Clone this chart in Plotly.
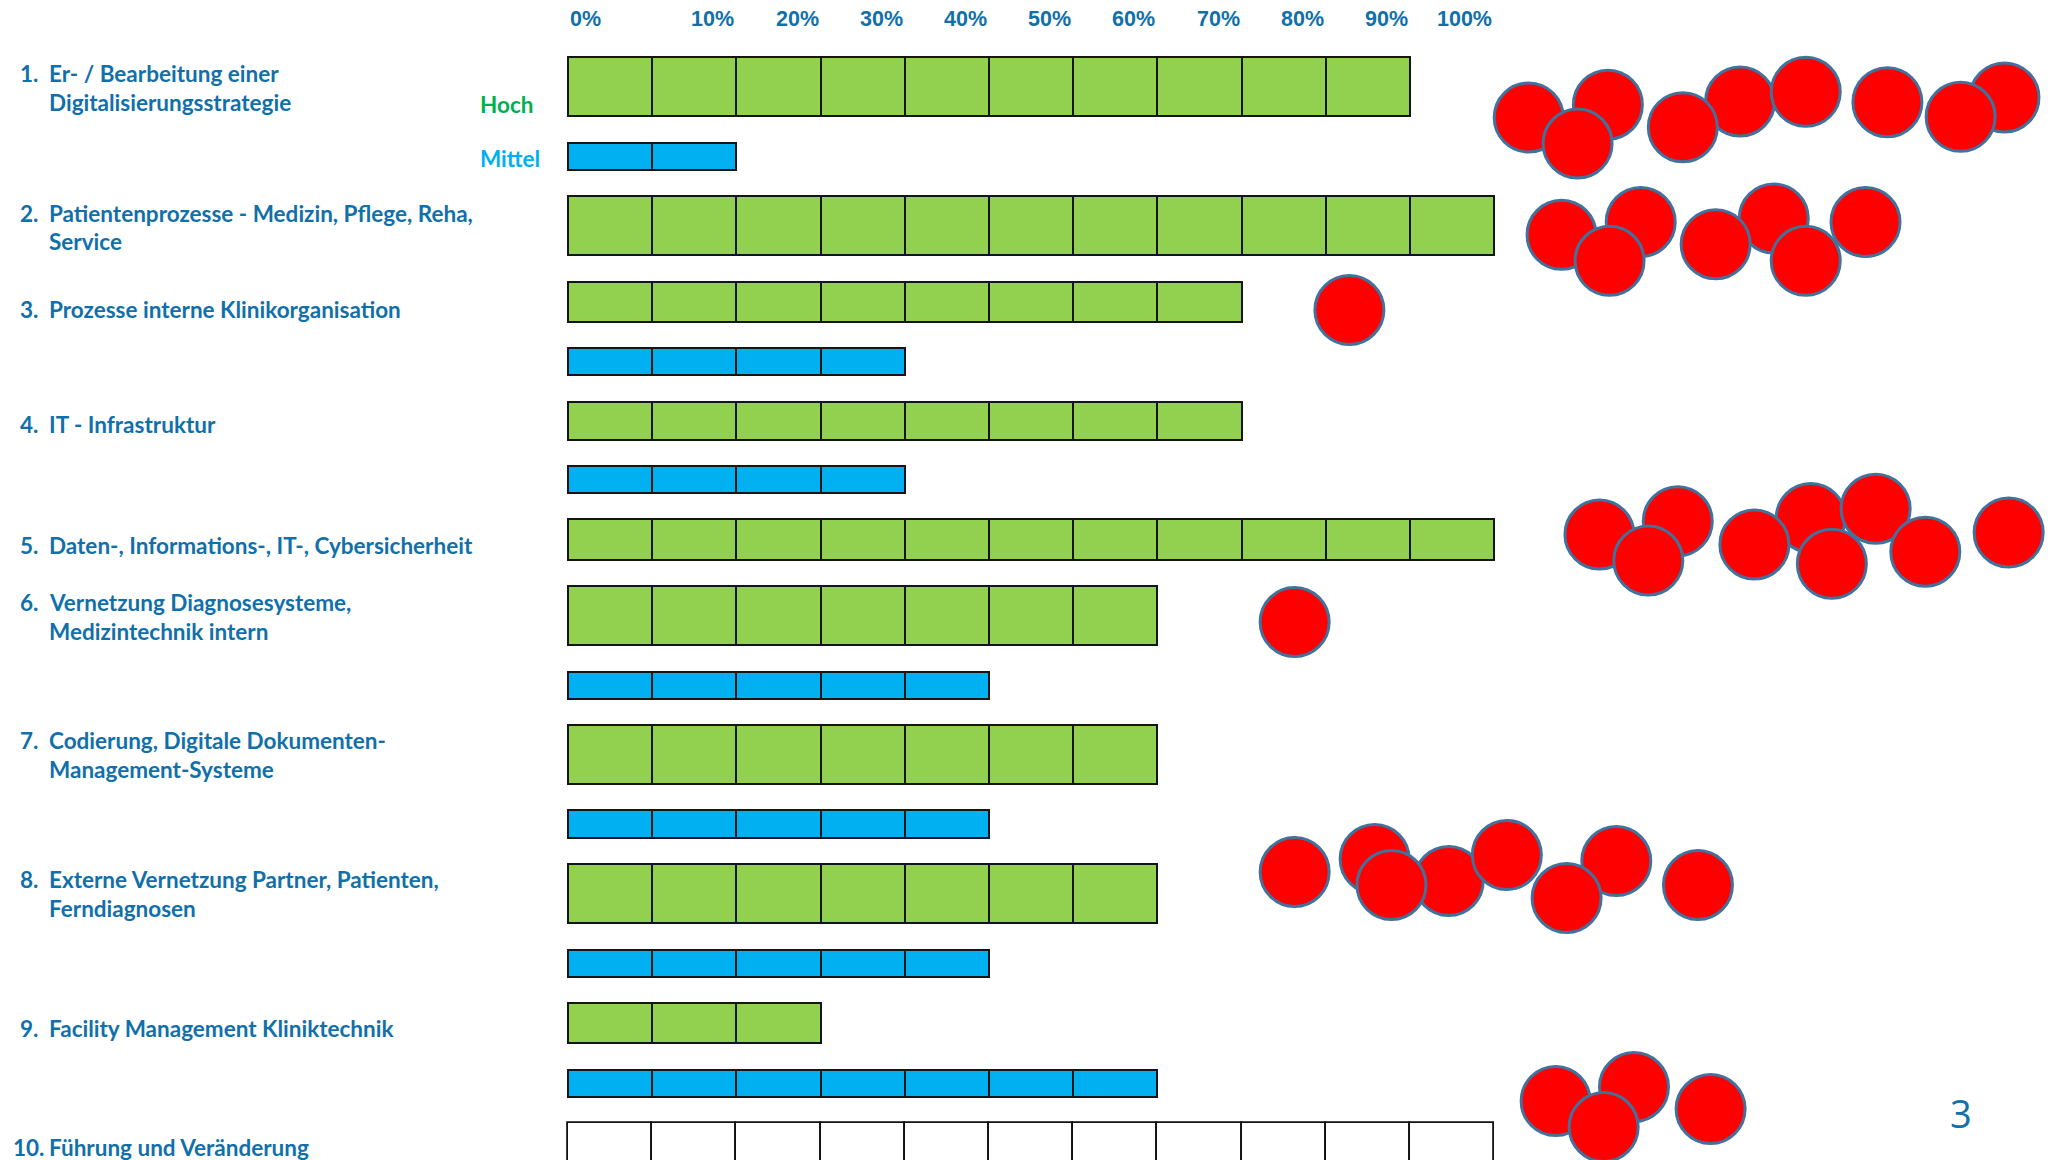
import plotly.graph_objects as go

# ---------------- data ----------------
numbers = ["1.", "2.", "3.", "4.", "5.", "6.", "7.", "8.", "9.", "10."]
topic_lines = [
    ["Er- / Bearbeitung einer", "Digitalisierungsstrategie"],
    ["Patientenprozesse - Medizin, Pflege, Reha,", "Service"],
    ["Prozesse interne Klinikorganisation"],
    ["IT - Infrastruktur"],
    ["Daten-, Informations-, IT-, Cybersicherheit"],
    ["Vernetzung Diagnosesysteme,", "Medizintechnik intern"],
    ["Codierung, Digitale Dokumenten-", "Management-Systeme"],
    ["Externe Vernetzung Partner, Patienten,", "Ferndiagnosen"],
    ["Facility Management Kliniktechnik"],
    ["Führung und Veränderung"],
]
hoch_pct = [90, 100, 70, 70, 100, 60, 60, 60, 20, None]
mittel_pct = [10, None, 30, 30, None, 40, 40, 40, 60, None]
frame_pct = [None, None, None, None, None, None, None, None, None, 100]
tick_pct = [0, 10, 20, 30, 40, 50, 60, 70, 80, 90, 100]
tick_labels = ["0%", "10%", "20%", "30%", "40%", "50%", "60%", "70%", "80%", "90%", "100%"]

# red markers (position in bar-cell units / row units), per row cluster
circle_x = [
    [11.41, 12.35, 11.99, 13.92, 13.24, 14.70, 15.67, 17.06, 16.54],
    [11.80, 12.74, 12.37, 14.32, 13.63, 14.70, 15.41],
    [9.28],
    [],
    [12.25, 13.18, 12.83, 14.76, 14.09, 15.53, 15.01, 16.12, 17.11],
    [8.63],
    [],
    [8.63, 9.58, 10.46, 9.78, 11.15, 12.45, 11.86, 13.42],
    [],
    [11.73, 12.66, 12.30, 13.57],
]
circle_y = [
    [117.5, 104.7, 143.5, 101.5, 127.2, 91.8, 102.2, 97.5, 116.8],
    [234.8, 222.0, 260.8, 218.5, 244.2, 260.8, 222.0],
    [310.0],
    [],
    [534.5, 521.3, 560.5, 518.0, 544.5, 508.7, 563.8, 551.7, 532.5],
    [622.0],
    [],
    [872.0, 859.0, 881.0, 885.0, 855.0, 861.0, 898.0, 885.0],
    [],
    [1101.0, 1087.0, 1127.0, 1109.0],
]

# ---------------- layout (positions / sizes) ----------------
W, H = 2062, 1160
X0_PX, CELL_PX = 568.0, 84.2
hoch_center = [86.3, 225.7, 301.7, 420.7, 539.7, 615.7, 754.7, 893.7, 1023.2, 1153.0]
hoch_height = [59.3, 59.3, 40.0, 38.0, 40.7, 59.3, 59.3, 59.3, 40.3, 60.0]
mittel_center = [156.3, None, 361.3, 479.7, None, 685.2, 824.0, 963.3, 1083.2, None]
mittel_height = 27.3
label_line_y = [[73.7, 102.3], [213.7, 241.0], [309.0], [424.7], [545.7],
                [602.3, 631.2], [740.3, 769.3], [879.7, 908.7], [1028.3], [1147.0]]
num_x_px = [18, 18, 18, 18, 18, 18, 18, 18, 18, 11]
text_x_px = 47

BLUE_TXT = "#1170AA"
GREEN = "#92D050"
CYAN = "#00B0F0"
LABEL_FONT = dict(family="Lato", size=22.5, color=BLUE_TXT, weight="bold")


def pct_to_cells(p):
    # first cell spans 0-10 %, then one cell per 10 %
    return 0 if p == 0 else p / 10.0 + 1


fig = go.Figure()


def add_cells(values, centers, heights, color, name, line_color="#151515", lw=2):
    xs, bases, ys, ws = [], [], [], []
    for i, v in enumerate(values):
        if v is None or centers[i] is None:
            continue
        n = int(round(pct_to_cells(v)))
        h = heights[i] if isinstance(heights, list) else heights
        for k in range(n):
            xs.append(1)
            bases.append(k)
            ys.append(centers[i])
            ws.append(h)
    fig.add_trace(go.Bar(
        x=xs, base=bases, y=ys, width=ws, orientation="h", name=name,
        marker=dict(color=color, line=dict(color=line_color, width=lw)),
        hoverinfo="skip", showlegend=False,
    ))


add_cells(hoch_pct, hoch_center, hoch_height, GREEN, "Hoch")
add_cells(mittel_pct, mittel_center, mittel_height, CYAN, "Mittel")
add_cells(frame_pct, hoch_center, hoch_height, "white", "Rahmen", line_color="#111111", lw=1.8)

# red circles
for cx, cy in zip(circle_x, circle_y):
    if not cx:
        continue
    fig.add_trace(go.Scatter(
        x=cx, y=cy, mode="markers",
        marker=dict(size=69, color="#FF0000", line=dict(color="#41719C", width=3)),
        hoverinfo="skip", showlegend=False,
    ))

ann = []
# top percent labels
for p, t in zip(tick_pct, tick_labels):
    c = pct_to_cells(p)
    ann.append(dict(x=c, y=19, xref="x", yref="y", text=t, showarrow=False,
                    xanchor="left" if p == 0 else "right", yanchor="middle",
                    font=dict(family="Liberation Sans", size=21.5, color=BLUE_TXT, weight="bold")))

# row labels
for i, lines in enumerate(topic_lines):
    ys = label_line_y[i]
    ann.append(dict(x=num_x_px[i] / W, y=ys[0], xref="paper", yref="y", text=numbers[i],
                    showarrow=False, xanchor="left", yanchor="middle", font=LABEL_FONT))
    for ln, yv in zip(lines, ys):
        ann.append(dict(x=text_x_px / W, y=yv, xref="paper", yref="y", text=ln,
                        showarrow=False, xanchor="left", yanchor="middle", font=LABEL_FONT))

# legend words
ann.append(dict(x=478 / W, y=104, xref="paper", yref="y", text="Hoch", showarrow=False,
                xanchor="left", yanchor="middle",
                font=dict(family="Lato", size=22.5, color="#00B050", weight="bold")))
ann.append(dict(x=478 / W, y=158, xref="paper", yref="y", text="Mittel", showarrow=False,
                xanchor="left", yanchor="middle",
                font=dict(family="Lato", size=22.5, color=CYAN, weight="bold")))

# page number
ann.append(dict(x=1961 / W, y=1113, xref="paper", yref="y", text="3", showarrow=False,
                xanchor="center", yanchor="middle",
                font=dict(family="Open Sans", size=38, color=BLUE_TXT)))

fig.update_layout(
    width=W, height=H,
    margin=dict(l=0, r=0, t=0, b=0),
    paper_bgcolor="white", plot_bgcolor="white",
    barmode="overlay", bargap=0,
    xaxis=dict(range=[-X0_PX / CELL_PX, (W - X0_PX) / CELL_PX], visible=False, fixedrange=True),
    yaxis=dict(range=[H, 0], visible=False, fixedrange=True),
    annotations=ann,
    showlegend=False,
)

fig.write_html("out.html", config={"displayModeBar": False},
               post_script="document.body.style.margin='0';document.body.style.overflow='hidden';")
